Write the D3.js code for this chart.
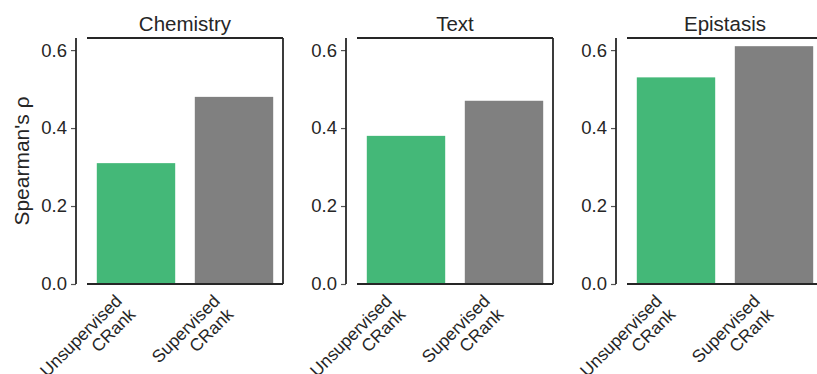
<!DOCTYPE html>
<html>
<head>
<meta charset="utf-8">
<script src="https://cdn.jsdelivr.net/npm/d3@7/dist/d3.min.js"></script>
<style>
  body { margin: 0; background: #fff; }
  svg { display: block; }
  text { font-family: "Liberation Sans", Arial, sans-serif; fill: #262626; }
</style>
</head>
<body>
<svg id="chart" width="817" height="374"></svg>
<script>
const panels = ["Chemistry", "Text", "Epistasis"];
const methods = [["Unsupervised", "CRank"], ["Supervised", "CRank"]];
const methodKeys = ["Unsupervised CRank", "Supervised CRank"];
const unsupervised = [0.31, 0.38, 0.53];
const supervised = [0.48, 0.47, 0.61];
const yTicks = [0.0, 0.2, 0.4, 0.6];
const yLabel = "Spearman's ρ";
const colors = ["#44b878", "#808080"];

const svg = d3.select("#chart");
const top_ = 38, bottom = 284, plotW = 196, firstX = 87, step = 270;
const y = d3.scaleLinear().domain([0, 0.631]).range([bottom, top_]);
const spine = "#262626";

panels.forEach((name, i) => {
  const x0 = firstX + i * step;
  const x = d3.scaleBand().domain(methodKeys).range([x0, x0 + plotW]).paddingInner(0.2).paddingOuter(0.1);
  const vals = [unsupervised[i], supervised[i]];
  const g = svg.append("g");

  // bars
  g.selectAll("rect").data(methodKeys).join("rect")
    .attr("x", d => x(d))
    .attr("width", x.bandwidth())
    .attr("y", (d, j) => y(vals[j]))
    .attr("height", (d, j) => bottom - y(vals[j]))
    .attr("fill", (d, j) => colors[j]);

  // y axis (offset left)
  const ax = g.append("g").attr("transform", `translate(${x0 - 11},0)`)
    .call(d3.axisLeft(y).tickValues(yTicks).tickFormat(d3.format(".1f")).tickSize(5).tickPadding(4));
  ax.select(".domain").remove();
  ax.selectAll(".tick line").attr("stroke", "#555").attr("stroke-width", 1.2);
  ax.selectAll(".tick text").style("font-size", "18.5px").attr("fill", "#262626")
    .style("font-family", '"Liberation Sans", Arial, sans-serif');
  g.append("line").attr("x1", x0 - 11).attr("x2", x0 - 11).attr("y1", top_).attr("y2", bottom)
    .attr("stroke", spine).attr("stroke-width", 1.8);

  // top, right, bottom spines
  g.append("line").attr("x1", x0).attr("x2", x0 + plotW).attr("y1", top_).attr("y2", top_)
    .attr("stroke", spine).attr("stroke-width", 1.8);
  g.append("line").attr("x1", x0 + plotW).attr("x2", x0 + plotW).attr("y1", top_).attr("y2", bottom)
    .attr("stroke", spine).attr("stroke-width", 1.8);
  g.append("line").attr("x1", x0).attr("x2", x0 + plotW).attr("y1", bottom).attr("y2", bottom)
    .attr("stroke", spine).attr("stroke-width", 1.8);

  // title
  g.append("text").attr("x", x0 + plotW / 2).attr("y", 31)
    .attr("text-anchor", "middle").style("font-size", "20.5px").text(name);

  // x tick labels, rotated
  methodKeys.forEach((k, j) => {
    const cx = x(k) + x.bandwidth() / 2;
    const t = g.append("text")
      .attr("transform", `translate(${cx - 13},302) rotate(-45)`)
      .attr("text-anchor", "end").style("font-size", "17.5px");
    methods[j].forEach((line, li) => {
      t.append("tspan").attr("x", 0).attr("dy", li === 0 ? 0 : 19).text(line);
    });
  });
});

// y label
svg.append("text").attr("transform", `translate(29,${(top_ + bottom) / 2}) rotate(-90)`)
  .attr("text-anchor", "middle").style("font-size", "21px").text(yLabel);
</script>
</body>
</html>
